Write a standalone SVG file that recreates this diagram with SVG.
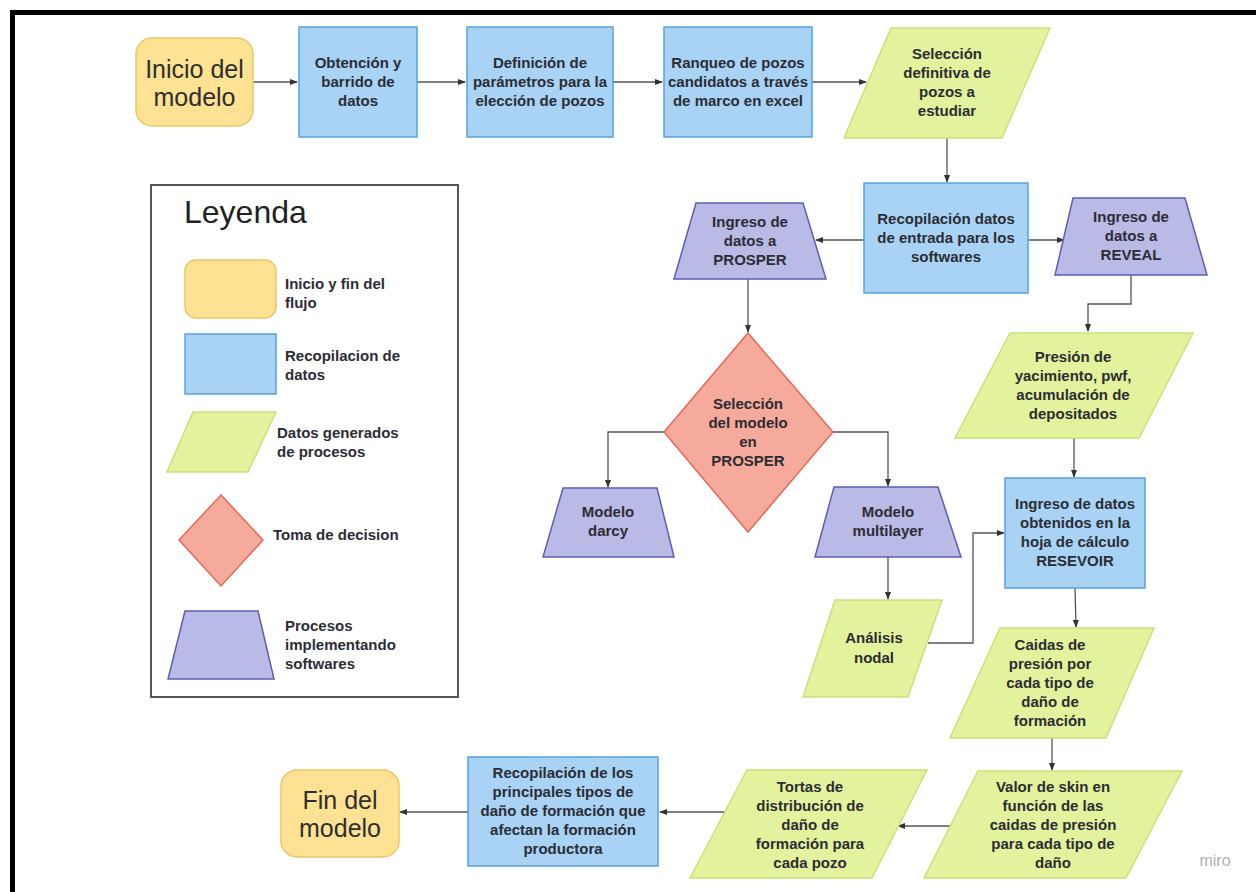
<svg xmlns="http://www.w3.org/2000/svg" width="1256" height="892" viewBox="0 0 1256 892">
<defs>
<marker id="ah" markerWidth="8" markerHeight="8" refX="7" refY="4" orient="auto" markerUnits="userSpaceOnUse">
<path d="M0,1 L8,4 L0,7 Z" fill="#333"/>
</marker>
<style>
.t{font-family:"Liberation Sans",Arial,sans-serif;font-weight:bold;font-size:15px;fill:#2c2c34;text-anchor:middle}
.lt{font-family:"Liberation Sans",Arial,sans-serif;font-weight:bold;font-size:15px;fill:#2c2c34}
.big{font-family:"Liberation Sans",Arial,sans-serif;font-size:25px;fill:#2e2e2e;text-anchor:middle}
.y{fill:#fde293;stroke:#e9c868;stroke-width:1.5}
.b{fill:#a8d3f5;stroke:#54a3e2;stroke-width:1.5}
.g{fill:#e3f29d;stroke:#c9e178;stroke-width:1.5}
.r{fill:#f6aa9c;stroke:#e2685a;stroke-width:1.5}
.p{fill:#babae6;stroke:#5d5db4;stroke-width:1.5}
.c{fill:none;stroke:#555;stroke-width:1.3;marker-end:url(#ah)}
</style>
</defs>
<rect width="1256" height="892" fill="#fff"/>
<g id="frame">
<rect x="10" y="10" width="1246" height="5" fill="#000"/>
<rect x="10" y="10" width="5" height="882" fill="#000"/>
</g>

<g id="legend">
<rect x="151" y="185" width="307" height="512" fill="#fff" stroke="#555" stroke-width="2"/>
<text x="184" y="223" style="font-family:'Liberation Sans',Arial,sans-serif;font-size:32px;fill:#222">Leyenda</text>
<rect class="y" x="185" y="260" width="91" height="58" rx="11"/>
<text class="lt" x="285" y="289">Inicio y fin del</text>
<text class="lt" x="285" y="308">flujo</text>
<rect class="b" x="185" y="334" width="91" height="60"/>
<text class="lt" x="285" y="361">Recopilacion de</text>
<text class="lt" x="285" y="380">datos</text>
<polygon class="g" points="193,412 276,412 248,472 167,472"/>
<text class="lt" x="277" y="438">Datos generados</text>
<text class="lt" x="277" y="457">de procesos</text>
<polygon class="r" points="221,495 263,540 221,586 179,540"/>
<text class="lt" x="273" y="540">Toma de decision</text>
<polygon class="p" points="185,611 258,611 274,679 168,679"/>
<text class="lt" x="285" y="631">Procesos</text>
<text class="lt" x="285" y="650">implementando</text>
<text class="lt" x="285" y="669">softwares</text>
</g>

<g id="connectors">
<line class="c" x1="253" y1="82" x2="297" y2="82"/>
<line class="c" x1="417" y1="82" x2="465" y2="82"/>
<line class="c" x1="613" y1="82" x2="662" y2="82"/>
<line class="c" x1="812" y1="82" x2="866" y2="82"/>
<line class="c" x1="947" y1="138" x2="947" y2="182"/>
<line class="c" x1="864" y1="240" x2="816" y2="240"/>
<line class="c" x1="1028" y1="240" x2="1064" y2="240"/>
<polyline class="c" points="1131,275 1131,304 1088,304 1088,331"/>
<line class="c" x1="748" y1="279" x2="748" y2="332"/>
<polyline class="c" points="664,432 608,432 608,487"/>
<polyline class="c" points="833,432 888,432 888,486"/>
<line class="c" x1="888" y1="557" x2="888" y2="599"/>
<polyline class="c" points="928,643 973,643 973,533 1004,533"/>
<line class="c" x1="1074" y1="438" x2="1074" y2="477"/>
<line class="c" x1="1075" y1="588" x2="1076" y2="627"/>
<line class="c" x1="1052" y1="738" x2="1052" y2="770"/>
<line class="c" x1="954" y1="826" x2="898" y2="826"/>
<line class="c" x1="724" y1="812" x2="660" y2="812"/>
<line class="c" x1="468" y1="812" x2="400" y2="812"/>
</g>

<g id="n-inicio">
<rect class="y" x="136" y="38" width="117" height="88" rx="16"/>
<text class="big" x="194.500" y="78">Inicio del</text>
<text class="big" x="194.500" y="106">modelo</text>
</g>
<g id="n-obtencion">
<rect class="b" x="299" y="27" width="118" height="110"/>
<text class="t" x="358" y="68">Obtención y</text>
<text class="t" x="358" y="87">barrido de</text>
<text class="t" x="358" y="106">datos</text>
</g>
<g id="n-definicion">
<rect class="b" x="467" y="27" width="146" height="110"/>
<text class="t" x="540" y="68">Definición de</text>
<text class="t" x="540" y="87">parámetros para la</text>
<text class="t" x="540" y="106">elección de pozos</text>
</g>
<g id="n-ranqueo">
<rect class="b" x="664" y="27" width="148" height="110"/>
<text class="t" x="738" y="68">Ranqueo de pozos</text>
<text class="t" x="738" y="87">candidatos a través</text>
<text class="t" x="738" y="106">de marco en excel</text>
</g>
<g id="n-seleccion">
<polygon class="g" points="891,28 1050,28 1002,138 844,138"/>
<text class="t" x="947" y="59">Selección</text>
<text class="t" x="947" y="78">definitiva de</text>
<text class="t" x="947" y="97">pozos a</text>
<text class="t" x="947" y="116">estudiar</text>
</g>
<g id="n-recopilacion">
<rect class="b" x="864" y="183" width="164" height="110"/>
<text class="t" x="946" y="224">Recopilación datos</text>
<text class="t" x="946" y="243">de entrada para los</text>
<text class="t" x="946" y="262">softwares</text>
</g>
<g id="n-prosper">
<polygon class="p" points="696,203 803,203 826,279 674,279"/>
<text class="t" x="750" y="227">Ingreso de</text>
<text class="t" x="750" y="246">datos a</text>
<text class="t" x="750" y="265">PROSPER</text>
</g>
<g id="n-reveal">
<polygon class="p" points="1073,198 1185,198 1207,275 1055,275"/>
<text class="t" x="1131" y="222">Ingreso de</text>
<text class="t" x="1131" y="241">datos a</text>
<text class="t" x="1131" y="260">REVEAL</text>
</g>
<g id="n-decision">
<polygon class="r" points="748,333 833,432 748,532 664,432"/>
<text class="t" x="748" y="409">Selección</text>
<text class="t" x="748" y="428">del modelo</text>
<text class="t" x="748" y="447">en</text>
<text class="t" x="748" y="466">PROSPER</text>
</g>
<g id="n-darcy">
<polygon class="p" points="563,488 657,488 674,557 543,557"/>
<text class="t" x="608" y="517">Modelo</text>
<text class="t" x="608" y="536">darcy</text>
</g>
<g id="n-multilayer">
<polygon class="p" points="834,487 938,487 961,557 815,557"/>
<text class="t" x="888" y="517">Modelo</text>
<text class="t" x="888" y="536">multilayer</text>
</g>
<g id="n-nodal">
<polygon class="g" points="835,600 942,600 908,697 803,697"/>
<text class="t" x="874" y="643">Análisis</text>
<text class="t" x="874" y="663">nodal</text>
</g>
<g id="n-presion">
<polygon class="g" points="1010,333 1193,333 1139,438 955,438"/>
<text class="t" x="1073" y="362">Presión de</text>
<text class="t" x="1073" y="381">yacimiento, pwf,</text>
<text class="t" x="1073" y="400">acumulación de</text>
<text class="t" x="1073" y="419">depositados</text>
</g>
<g id="n-resevoir">
<rect class="b" x="1005" y="478" width="140" height="110"/>
<text class="t" x="1075" y="509">Ingreso de datos</text>
<text class="t" x="1075" y="528">obtenidos en la</text>
<text class="t" x="1075" y="547">hoja de cálculo</text>
<text class="t" x="1075" y="566">RESEVOIR</text>
</g>
<g id="n-caidas">
<polygon class="g" points="1000,628 1154,628 1106,738 950,738"/>
<text class="t" x="1050" y="650">Caidas de</text>
<text class="t" x="1050" y="669">presión por</text>
<text class="t" x="1050" y="688">cada tipo de</text>
<text class="t" x="1050" y="707">daño de</text>
<text class="t" x="1050" y="726">formación</text>
</g>
<g id="n-valor">
<polygon class="g" points="978,771 1182,771 1126,878 924,878"/>
<text class="t" x="1053" y="792">Valor de skin en</text>
<text class="t" x="1053" y="811">función de las</text>
<text class="t" x="1053" y="830">caidas de presión</text>
<text class="t" x="1053" y="849">para cada tipo de</text>
<text class="t" x="1053" y="868">daño</text>
</g>
<g id="n-tortas">
<polygon class="g" points="747,770 927,770 872,878 690,878"/>
<text class="t" x="810" y="792">Tortas de</text>
<text class="t" x="810" y="811">distribución de</text>
<text class="t" x="810" y="830">daño de</text>
<text class="t" x="810" y="849">formación para</text>
<text class="t" x="810" y="868">cada pozo</text>
</g>
<g id="n-recop-final">
<rect class="b" x="468" y="757" width="190" height="109"/>
<text class="t" x="563" y="778">Recopilación de los</text>
<text class="t" x="563" y="797">principales tipos de</text>
<text class="t" x="563" y="816">daño de formación que</text>
<text class="t" x="563" y="835">afectan la formación</text>
<text class="t" x="563" y="854">productora</text>
</g>
<g id="n-fin">
<rect class="y" x="281" y="770" width="118" height="87" rx="16"/>
<text class="big" x="340" y="809">Fin del</text>
<text class="big" x="340" y="837">modelo</text>
</g>
<text x="1215" y="866" style="font-family:'Liberation Sans',Arial,sans-serif;font-size:16px;fill:#b0b0b0;text-anchor:middle">miro</text>
</svg>
